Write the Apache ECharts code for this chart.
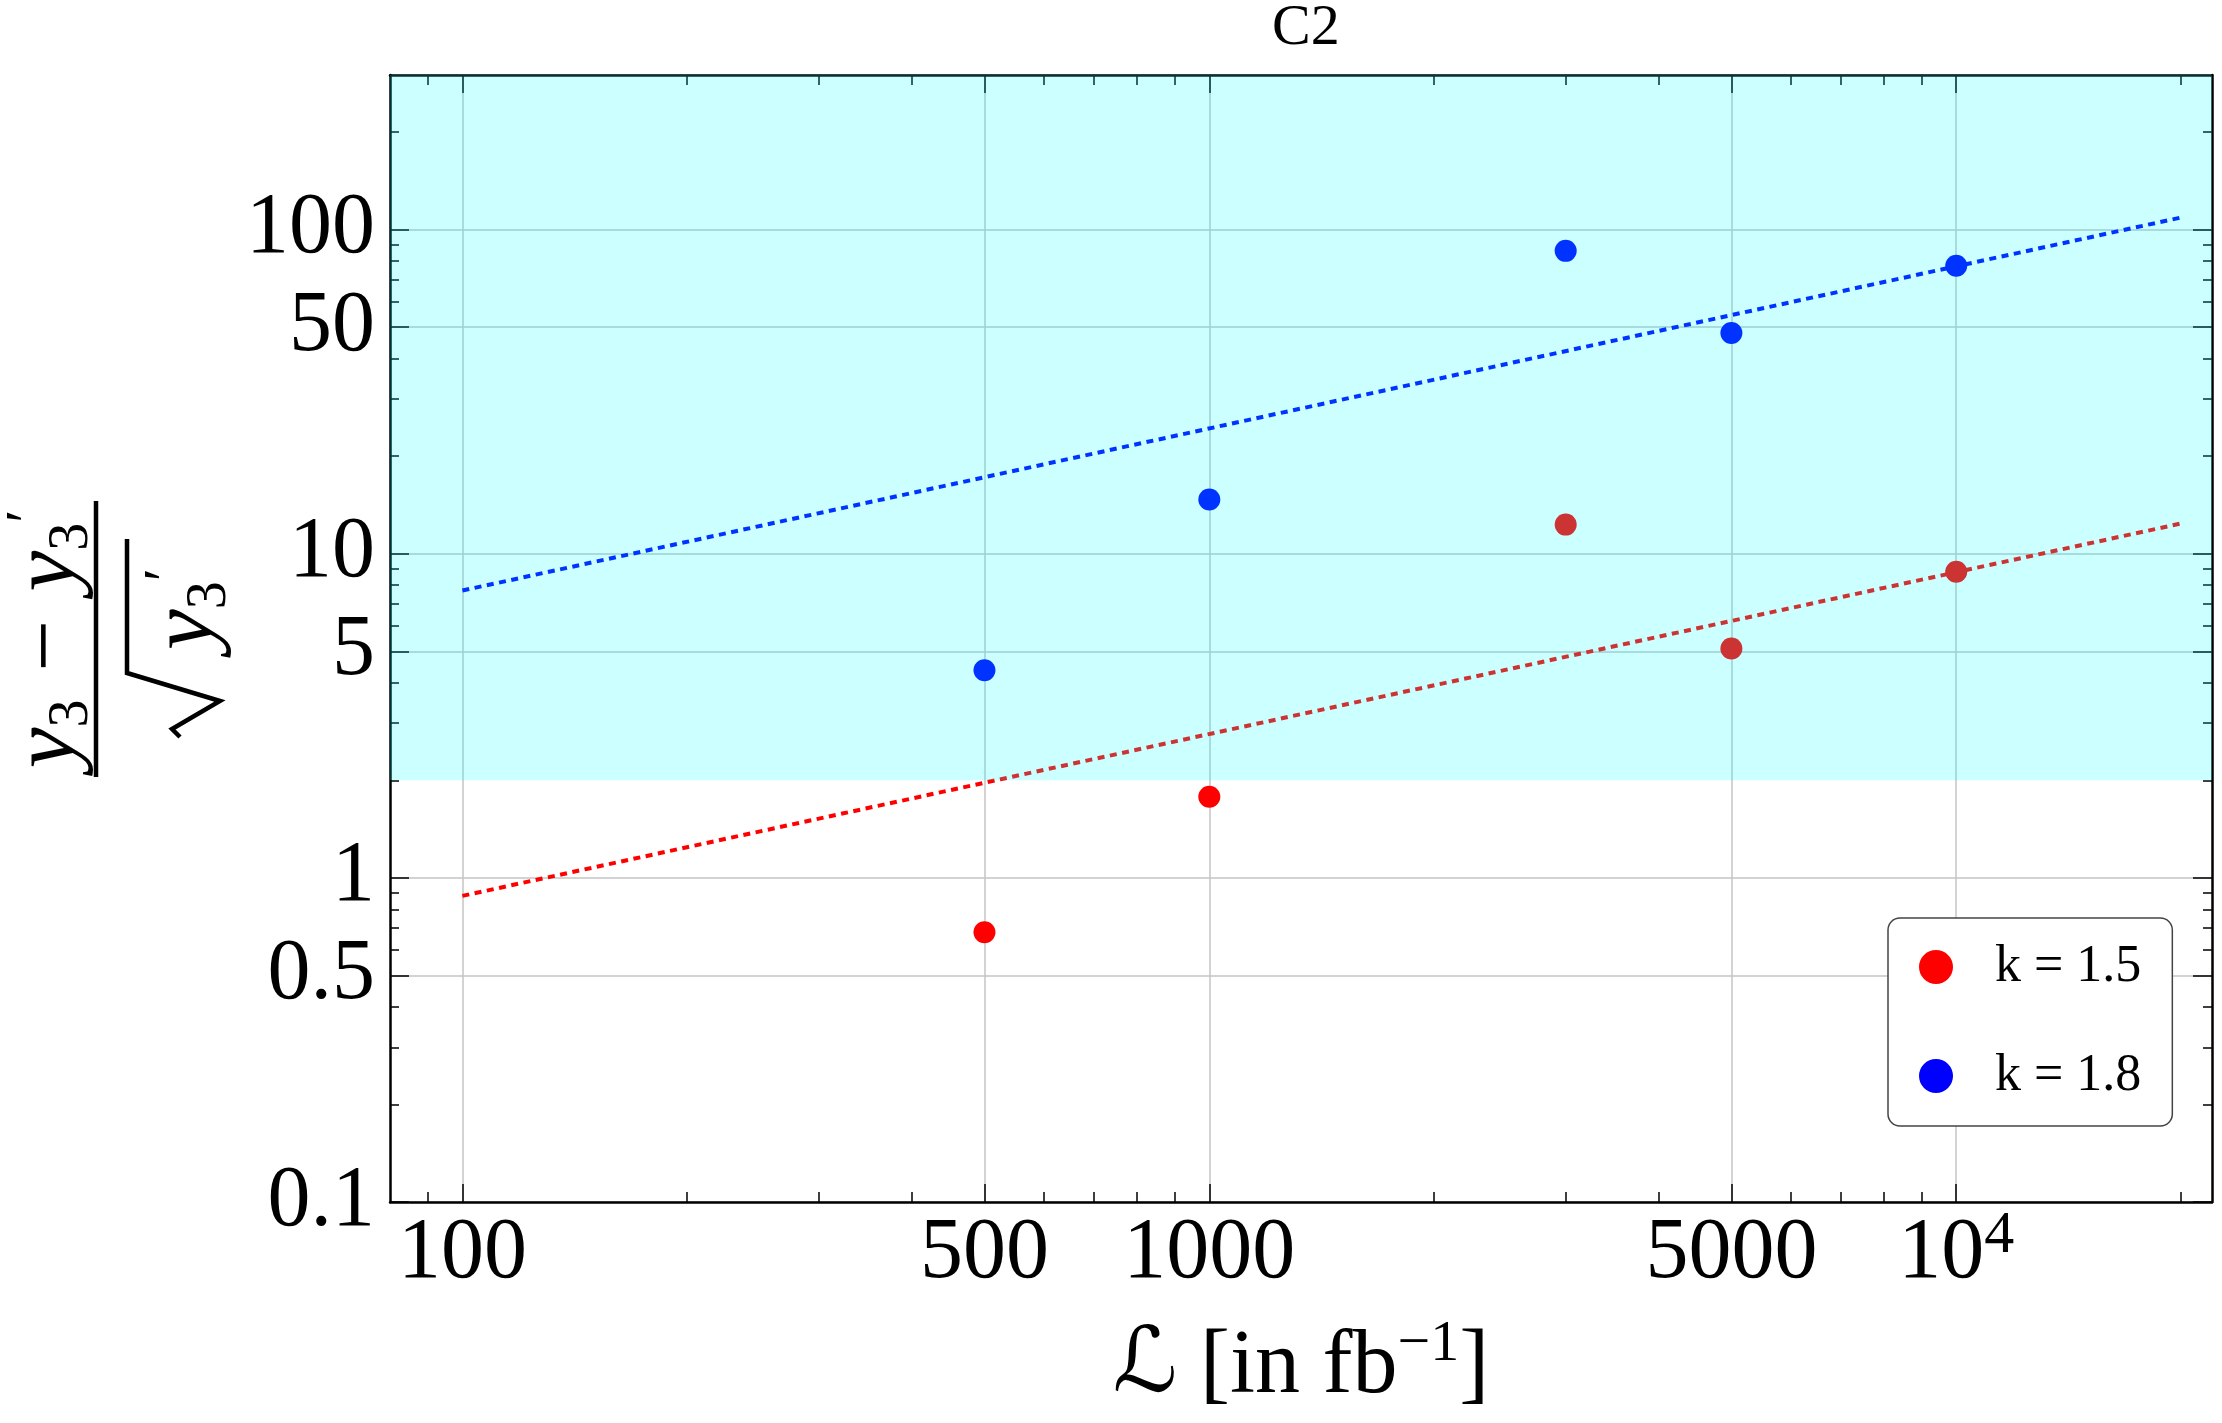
<!DOCTYPE html>
<html>
<head>
<meta charset="utf-8">
<style>
  html, body { margin: 0; padding: 0; background: #fff; }
  #chart { width: 2222px; height: 1423px; }
</style>
<script src="https://cdn.jsdelivr.net/npm/echarts@6/dist/echarts.min.js"></script>
</head>
<body>
<div id="chart"></div>
<script>
// 数据点
const lumi = [500, 1000, 3000, 5000, 10000]
const k15 = [0.68, 1.78, 12.3, 5.1, 8.8]
const k18 = [4.37, 14.7, 86, 48, 77.4]
// 拟合线端点
const fitX = [100, 20000]
const fit15 = [0.88, 12.4]
const fit18 = [7.7, 109]
// 青色区域 (y 范围)
const band = [2, 300]
// 刻度
const xMajor = [100, 500, 1000, 5000, 10000]
const xMinor = [90, 200, 300, 400, 600, 700, 800, 900, 2000, 3000, 4000, 6000, 7000, 8000, 9000, 20000]
const yMajor = [0.1, 0.5, 1, 5, 10, 50, 100]
const yMinor = [0.2, 0.3, 0.4, 0.6, 0.7, 0.8, 0.9, 2, 3, 4, 6, 7, 8, 9, 20, 30, 40, 60, 70, 80, 90, 200]
const seriesNames = ['k = 1.5', 'k = 1.8']

const FONT = '"Liberation Serif", "DejaVu Serif", serif'
const pairs = (xs, ys) => xs.map((x, i) => [x, ys[i]])
const fmt = v => String(parseFloat((+v).toPrecision(6)))

const xRange = { type: 'log', logBase: 10, min: 80, max: 22000 }
const yRange = { type: 'log', logBase: 10, min: 0.1, max: 300 }

// 边框上的刻度轴（无标签）
const tickAxis = (range, position, ticks, len, withLine) => ({
  ...range,
  position,
  axisLine: { show: withLine, onZero: false, lineStyle: { color: '#000', width: 2.5 } },
  axisTick: { show: true, inside: true, length: len, customValues: ticks, lineStyle: { color: '#000', width: 1.5 } },
  axisLabel: { show: false },
  splitLine: { show: false },
  minorTick: { show: false }
})

const gridLine = { show: true, lineStyle: { color: '#c4c4c4', width: 1.5 } }

const option = {
  animation: false,
  backgroundColor: '#fff',
  title: {
    text: 'C2',
    left: 1272,
    top: 0,
    padding: 0,
    textStyle: { fontFamily: FONT, fontSize: 58, fontWeight: 'normal', color: '#000' }
  },
  grid: { left: 390, right: 10, top: 75, bottom: 221, containLabel: false, outerBoundsMode: 'none' },
  legend: {
    data: seriesNames,
    orient: 'vertical',
    left: 1888,
    top: 918,
    icon: 'circle',
    itemWidth: 34,
    itemHeight: 34,
    itemGap: 57,
    padding: [23, 31, 24, 31],
    borderColor: '#444',
    borderWidth: 1.5,
    borderRadius: 12,
    backgroundColor: '#fff',
    selectedMode: false,
    itemStyle: { opacity: 1 },
    textStyle: { fontFamily: FONT, fontSize: 52, lineHeight: 52, color: '#000', padding: [0, 0, 0, 37] }
  },
  xAxis: [
    {
      ...xRange,
      position: 'bottom',
      name: '{l|ℒ}{t| [in fb}{s|−1}{t|]}',
      nameLocation: 'middle',
      nameGap: 114,
      nameMoveOverlap: false,
      nameTextStyle: {
        color: '#000',
        rich: {
          l: { fontFamily: '"DejaVu Serif", "DejaVu Sans", serif', fontSize: 90, lineHeight: 104, color: '#000' },
          t: { fontFamily: FONT, fontSize: 90, lineHeight: 104, color: '#000' },
          s: { fontFamily: FONT, fontSize: 58, lineHeight: 58, verticalAlign: 'top', color: '#000' }
        }
      },
      axisLine: { show: true, onZero: false, lineStyle: { color: '#000', width: 2.5 } },
      axisTick: { show: true, inside: true, length: 18, customValues: xMajor, lineStyle: { color: '#000', width: 1.5 } },
      axisLabel: {
        customValues: xMajor,
        margin: 4,
        formatter: v => (+v === 10000 ? '{m|10}{s|4}' : '{m|' + fmt(v) + '}'),
        rich: {
          m: { fontFamily: FONT, fontSize: 86, lineHeight: 96, color: '#000' },
          s: { fontFamily: FONT, fontSize: 60, lineHeight: 48, verticalAlign: 'top', color: '#000' }
        }
      },
      splitLine: gridLine,
      minorTick: { show: false }
    },
    tickAxis(xRange, 'bottom', xMinor, 10, false),
    tickAxis(xRange, 'top', xMajor, 18, true),
    tickAxis(xRange, 'top', xMinor, 10, false)
  ],
  yAxis: [
    {
      ...yRange,
      position: 'left',
      axisLine: { show: true, onZero: false, lineStyle: { color: '#000', width: 2.5 } },
      axisTick: { show: true, inside: true, length: 19, customValues: yMajor, lineStyle: { color: '#000', width: 1.5 } },
      axisLabel: {
        customValues: yMajor,
        margin: 15,
        formatter: v => fmt(v),
        fontFamily: FONT,
        fontSize: 86,
        color: '#000'
      },
      splitLine: gridLine,
      minorTick: { show: false }
    },
    tickAxis(yRange, 'left', yMinor, 9, false),
    tickAxis(yRange, 'right', yMajor, 19, true),
    tickAxis(yRange, 'right', yMinor, 9, false)
  ],
  graphic: [
    {
      // 纵轴标题: (y3 - y3') / sqrt(y3')
      type: 'group',
      x: 96,
      y: 639,
      rotation: Math.PI / 2,
      children: [
        { type: 'line', shape: { x1: -138, y1: 0, x2: 138, y2: 0 }, style: { stroke: '#000', lineWidth: 4.5 } },
        {
          type: 'text',
          x: 0,
          y: -46,
          style: {
            text: '{i|y}{s|3}{o|−}{i|y}{s|3}{p|′}',
            align: 'center',
            verticalAlign: 'middle',
            textAlign: 'center',
            textVerticalAlign: 'middle',
            rich: {
              i: { fontFamily: FONT, fontStyle: 'italic', fontSize: 92, lineHeight: 100, fill: '#000' },
              s: { fontFamily: FONT, fontSize: 56, lineHeight: 56, verticalAlign: 'bottom', fill: '#000' },
              o: { fontFamily: FONT, fontSize: 92, lineHeight: 100, padding: [0, 28, 0, 28], fill: '#000' },
              p: { fontFamily: FONT, fontSize: 60, lineHeight: 60, verticalAlign: 'top', fill: '#000' }
            }
          }
        },
        {
          type: 'polyline',
          shape: { points: [[-98, 84], [-90, 76], [-62, 124], [-34, 31], [100, 31]] },
          style: { stroke: '#000', lineWidth: 4.5, fill: null }
        },
        {
          type: 'text',
          x: 30,
          y: 92,
          style: {
            text: '{i|y}{s|3}{p|′}',
            align: 'center',
            verticalAlign: 'middle',
            textAlign: 'center',
            textVerticalAlign: 'middle',
            rich: {
              i: { fontFamily: FONT, fontStyle: 'italic', fontSize: 92, lineHeight: 100, fill: '#000' },
              s: { fontFamily: FONT, fontSize: 56, lineHeight: 56, verticalAlign: 'bottom', fill: '#000' },
              p: { fontFamily: FONT, fontSize: 60, lineHeight: 60, verticalAlign: 'top', fill: '#000' }
            }
          }
        }
      ]
    }
  ],
  series: [
    {
      name: seriesNames[0],
      type: 'scatter',
      data: pairs(lumi, k15),
      symbolSize: 22,
      itemStyle: { color: '#ff0000', opacity: 1 },
      z: 3
    },
    {
      name: seriesNames[1],
      type: 'scatter',
      data: pairs(lumi, k18),
      symbolSize: 22,
      itemStyle: { color: '#0000ff', opacity: 1 },
      z: 3
    },
    {
      type: 'line',
      data: pairs(fitX, fit15),
      symbol: 'none',
      silent: true,
      lineStyle: { color: '#ff0000', width: 4, type: [7, 5.5] },
      z: 2
    },
    {
      type: 'line',
      data: pairs(fitX, fit18),
      symbol: 'none',
      silent: true,
      lineStyle: { color: '#0000ff', width: 4, type: [7, 5.5] },
      z: 2
    },
    {
      // 半透明青色覆盖层，画在点和线之上
      type: 'line',
      data: [],
      z: 10,
      silent: true,
      markArea: {
        silent: true,
        z: 10,
        itemStyle: { color: 'rgba(0,255,255,0.2)' },
        data: [[{ yAxis: band[0] }, { yAxis: band[1] }]]
      }
    }
  ]
}

echarts.init(document.getElementById('chart')).setOption(option)
</script>
</body>
</html>
